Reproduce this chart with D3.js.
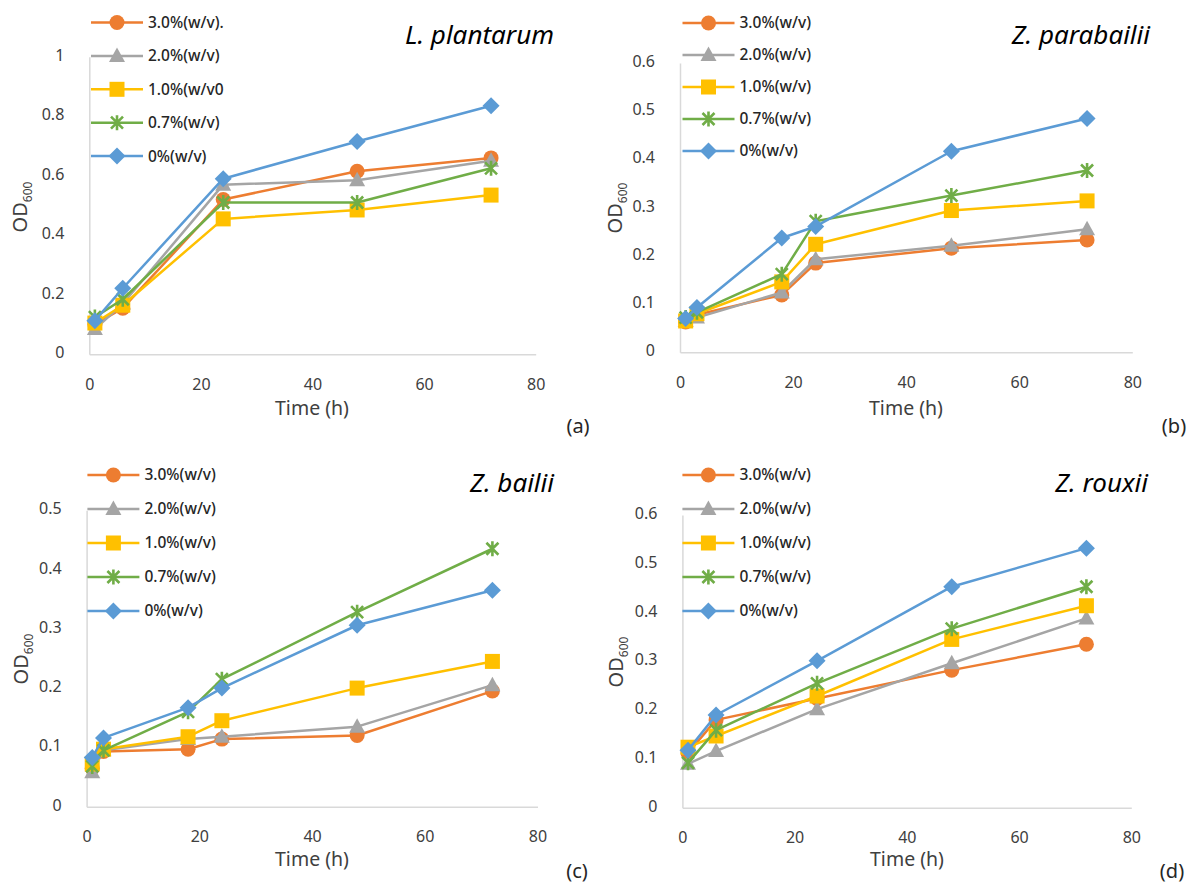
<!DOCTYPE html>
<html>
<head>
<meta charset="utf-8">
<script src="https://cdn.jsdelivr.net/npm/d3@7"></script>
<style>
  body { margin: 0; background: #fff; }
  svg text { font-family: "Noto Sans", "DejaVu Sans", sans-serif; }
</style>
</head>
<body>
<svg id="chart" width="1191" height="885"></svg>
<script>
// series order: 3.0%, 2.0%, 1.0%, 0.7%, 0%
const seriesColors = ["#ED7D31", "#A5A5A5", "#FFC000", "#70AD47", "#5B9BD5"];
const seriesMarkers = ["circle", "triangle", "square", "star", "diamond"];

const legendA = ["3.0%(w/v).", "2.0%(w/v)", "1.0%(w/v0", "0.7%(w/v)", "0%(w/v)"];
const legendStd = ["3.0%(w/v)", "2.0%(w/v)", "1.0%(w/v)", "0.7%(w/v)", "0%(w/v)"];

const timeA = [1, 6, 24, 48, 72];
const odPlantarum = [
  [0.10, 0.155, 0.52, 0.615, 0.66],
  [0.085, 0.17, 0.57, 0.585, 0.65],
  [0.105, 0.165, 0.455, 0.485, 0.535],
  [0.125, 0.185, 0.51, 0.51, 0.625],
  [0.113, 0.222, 0.59, 0.715, 0.835]
];

const timeB = [1, 3, 18, 24, 48, 72];
const odParabailii = [
  [0.063, 0.078, 0.119, 0.185, 0.216, 0.233],
  [0.065, 0.072, 0.124, 0.193, 0.221, 0.255],
  [0.065, 0.08, 0.146, 0.224, 0.294, 0.314],
  [0.072, 0.083, 0.162, 0.272, 0.325, 0.377],
  [0.07, 0.093, 0.237, 0.261, 0.417, 0.485]
];

const timeC = [1, 3, 18, 24, 48, 72];
const odBailii = [
  [0.065, 0.093, 0.097, 0.114, 0.12, 0.195],
  [0.058, 0.095, 0.114, 0.118, 0.135, 0.205],
  [0.072, 0.097, 0.118, 0.145, 0.2, 0.245],
  [0.068, 0.095, 0.16, 0.215, 0.328, 0.435],
  [0.083, 0.116, 0.167, 0.2, 0.306, 0.365]
];

const timeD = [1, 6, 24, 48, 72];
const odRouxii = [
  [0.112, 0.18, 0.224, 0.282, 0.335],
  [0.09, 0.116, 0.202, 0.296, 0.388],
  [0.124, 0.147, 0.229, 0.345, 0.414],
  [0.092, 0.159, 0.255, 0.367, 0.453],
  [0.118, 0.19, 0.301, 0.453, 0.532]
];

const xTicks = [0, 20, 40, 60, 80];
const yTicksA = [0, 0.2, 0.4, 0.6, 0.8, 1];
const yTicksB = [0, 0.1, 0.2, 0.3, 0.4, 0.5, 0.6];
const yTicksC = [0, 0.1, 0.2, 0.3, 0.4, 0.5];
const yTicksD = [0, 0.1, 0.2, 0.3, 0.4, 0.5, 0.6];

const svg = d3.select("#chart");

function drawMarker(g, type, color) {
  if (type === "circle") {
    g.append("circle").attr("r", 7.5).attr("fill", color);
  } else if (type === "triangle") {
    g.append("path").attr("d", "M0,-8.5L8,6L-8,6Z").attr("fill", color);
  } else if (type === "square") {
    g.append("rect").attr("x", -7.5).attr("y", -7.5).attr("width", 15).attr("height", 15).attr("fill", color);
  } else if (type === "diamond") {
    g.append("path").attr("d", "M0,-8.5L8.5,0L0,8.5L-8.5,0Z").attr("fill", color);
  } else if (type === "star") {
    g.append("path").attr("d", "M-6,-6L6,6M-6,6L6,-6M0,-7.5L0,7.5")
      .attr("stroke", color).attr("stroke-width", 2.6).attr("fill", "none");
  }
}

function drawPanel(p) {
  const g = svg.append("g");
  const x = d3.scaleLinear().domain([0, 80]).range(p.xRange);
  const y = d3.scaleLinear().domain([0, p.yMax]).range(p.yRange);

  // axes (no ticks, light gray lines)
  const xAxis = g.append("g").attr("transform", `translate(0,${p.yRange[0]})`)
    .call(d3.axisBottom(x).tickValues(xTicks).tickSize(0).tickPadding(0).tickFormat(d3.format("d")));
  xAxis.select(".domain").attr("stroke", "#d9d9d9").attr("stroke-width", 1.5);
  xAxis.selectAll("text").attr("font-size", 16).attr("fill", "#404040")
    .attr("y", 30).attr("dy", "0.35em");

  const yAxis = g.append("g").attr("transform", `translate(${p.xRange[0]},0)`)
    .call(d3.axisLeft(y).tickValues(p.yTicks).tickSize(0).tickPadding(25).tickFormat(d => d3.format("~g")(d)));
  yAxis.select(".domain").attr("stroke", "#d9d9d9").attr("stroke-width", 1.5);
  yAxis.selectAll("text").attr("font-size", 16).attr("fill", "#404040").attr("dy", "0.22em");

  // series
  const line = d3.line().x(d => x(d[0])).y(d => y(d[1]));
  p.values.forEach((vals, i) => {
    const pts = p.times.map((t, j) => [t, vals[j]]);
    g.append("path").datum(pts).attr("d", line)
      .attr("fill", "none").attr("stroke", seriesColors[i]).attr("stroke-width", 2.5)
      .attr("stroke-linejoin", "round");
    pts.forEach(pt => {
      const m = g.append("g").attr("transform", `translate(${x(pt[0])},${y(pt[1])})`);
      drawMarker(m, seriesMarkers[i], seriesColors[i]);
    });
  });

  // legend
  p.legend.forEach((name, i) => {
    const ly = p.legendY + i * p.legendStep;
    const lx = p.legendX;
    g.append("line").attr("x1", lx).attr("x2", lx + 52).attr("y1", ly).attr("y2", ly)
      .attr("stroke", seriesColors[i]).attr("stroke-width", 2.5);
    const m = g.append("g").attr("transform", `translate(${lx + 26},${ly})`);
    drawMarker(m, seriesMarkers[i], seriesColors[i]);
    g.append("text").attr("x", lx + 57).attr("y", ly).attr("dy", "0.35em")
      .attr("font-size", 15.5).attr("font-weight", 500).attr("fill", "#262626").text(name);
  });

  // species title
  g.append("text").attr("x", p.titleX).attr("y", p.titleY).attr("dy", "0.35em")
    .attr("text-anchor", "end").attr("font-size", 26).attr("font-style", "italic")
    .attr("fill", "#000").text(p.title);

  // axis titles
  g.append("text").attr("x", p.xTitleX).attr("y", p.xTitleY)
    .attr("dy", "0.35em").attr("text-anchor", "middle").attr("font-size", 19.5)
    .attr("fill", "#404040").text("Time (h)");

  const yt = g.append("text").attr("transform", `translate(${p.yTitleX},${p.yTitleY}) rotate(-90)`)
    .attr("text-anchor", "middle").attr("font-size", 20).attr("fill", "#404040");
  yt.append("tspan").text("OD");
  yt.append("tspan").attr("font-size", 12).attr("dy", 5).text("600");

  g.append("text").attr("x", p.tagX).attr("y", p.tagY).attr("dy", "0.35em")
    .attr("text-anchor", "middle").attr("font-size", 20).attr("fill", "#262626").text(p.tag);
}

drawPanel({
  times: timeA, values: odPlantarum, legend: legendA, yMax: 1, yTicks: yTicksA,
  xRange: [89.3, 535.7], yRange: [354.3, 56.7],
  legendX: 91, legendY: 22.5, legendStep: 33.4,
  title: "L. plantarum", titleX: 554, titleY: 35,
  xTitleX: 312, xTitleY: 408, yTitleX: 27, yTitleY: 207, tag: "(a)", tagX: 578, tagY: 426
});
drawPanel({
  times: timeB, values: odParabailii, legend: legendStd, yMax: 0.6, yTicks: yTicksB,
  xRange: [680, 1132.3], yRange: [352.3, 63],
  legendX: 682.5, legendY: 23, legendStep: 32,
  title: "Z. parabailii", titleX: 1150, titleY: 35,
  xTitleX: 906, xTitleY: 408, yTitleX: 622, yTitleY: 208, tag: "(b)", tagX: 1174, tagY: 426
});
drawPanel({
  times: timeC, values: odBailii, legend: legendStd, yMax: 0.5, yTicks: yTicksC,
  xRange: [86.6, 537.5], yRange: [806.7, 510.2],
  legendX: 87.4, legendY: 475, legendStep: 34,
  title: "Z. bailii", titleX: 554, titleY: 483,
  xTitleX: 312, xTitleY: 859, yTitleX: 28, yTitleY: 659, tag: "(c)", tagX: 577, tagY: 871
});
drawPanel({
  times: timeD, values: odRouxii, legend: legendStd, yMax: 0.6, yTicks: yTicksD,
  xRange: [682.4, 1131.3], yRange: [807.7, 515],
  legendX: 682.4, legendY: 475, legendStep: 34,
  title: "Z. rouxii", titleX: 1148, titleY: 483,
  xTitleX: 907, xTitleY: 859, yTitleX: 623, yTitleY: 662, tag: "(d)", tagX: 1172, tagY: 871
});
</script>
</body>
</html>
